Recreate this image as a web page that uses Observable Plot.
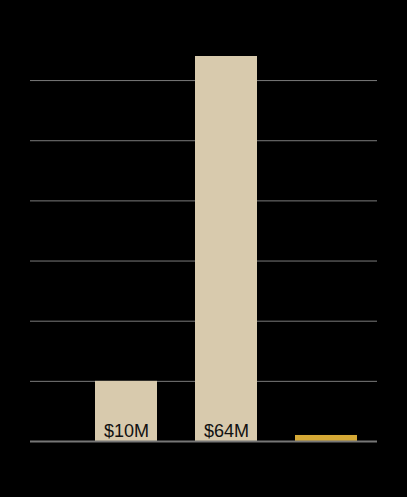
<!DOCTYPE html>
<html>
<head>
<meta charset="utf-8">
<script src="https://cdn.jsdelivr.net/npm/d3@7"></script>
<script src="https://cdn.jsdelivr.net/npm/@observablehq/plot@0.6"></script>
<style>
  html, body { margin: 0; padding: 0; background: #000; }
  #chart svg { display: block; }
</style>
</head>
<body>
<div id="chart"></div>
<script>
const categories = ["A", "B", "C"];
const values = [10, 64, 1];
const labels = ["$10M", "$64M", ""];
const colors = ["#d8caad", "#d8caad", "#d5a936"];
const gridTicks = [10, 20, 30, 40, 50, 60];

const data = categories.map((c, i) => ({cat: c, value: values[i], label: labels[i], color: colors[i]}));

const chart = Plot.plot({
  width: 407,
  height: 497,
  marginLeft: 30,
  marginRight: 30,
  marginTop: 56,
  marginBottom: 56,
  style: {background: "#000", fontFamily: "Liberation Sans, Arial, sans-serif"},
  x: {domain: categories, range: [76, 376], paddingInner: 0.38, paddingOuter: 0.19, axis: null},
  y: {domain: [0, 64], axis: null},
  marks: [
    Plot.ruleY(gridTicks, {stroke: "#7a7a7a", strokeWidth: 1}),
    Plot.barY(data, {x: "cat", y: "value", fill: "color"}),
    Plot.ruleY([0], {stroke: "#767676", strokeWidth: 2}),
    Plot.text(data, {x: "cat", y: 0, text: "label", fill: "#111", fontSize: 18, dy: -10})
  ]
});
document.getElementById("chart").append(chart);
</script>
</body>
</html>
